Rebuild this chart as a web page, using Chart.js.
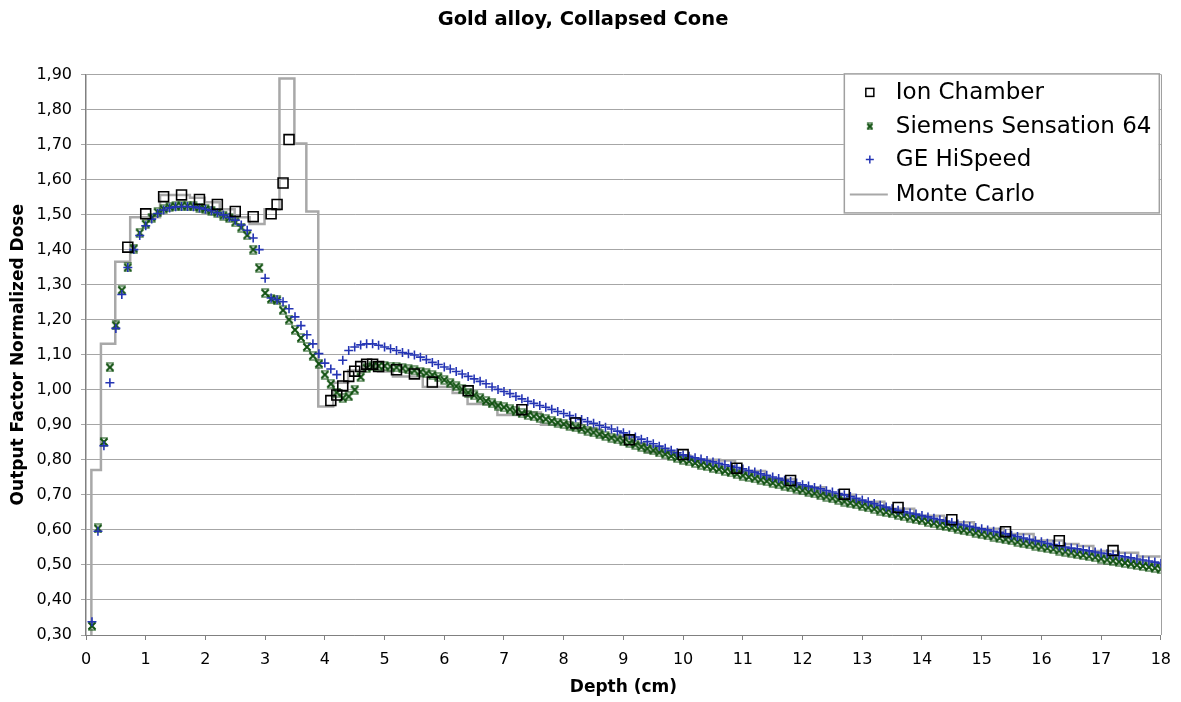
<!DOCTYPE html>
<html>
<head>
<meta charset="utf-8">
<script src="https://cdn.jsdelivr.net/npm/chart.js@4.4.1/dist/chart.umd.min.js"></script>
<style>
  html, body { margin: 0; padding: 0; background: #fff; }
  #wrap { width: 1181px; height: 702px; }
</style>
</head>
<body>
<div id="wrap"><canvas id="chart" width="1181" height="702"></canvas></div>
<script>
// 測定データ（深さ 0.1cm 刻み）
const depthStep = 0.1;

const siemens = [
  0.326, 0.604, 0.851, 1.064, 1.184, 1.284, 1.349, 1.403, 1.448, 1.473,
  1.491, 1.507, 1.516, 1.522, 1.524, 1.525, 1.525, 1.523, 1.520, 1.516,
  1.511, 1.505, 1.497, 1.490, 1.478, 1.463, 1.441, 1.400, 1.348, 1.276,
  1.259, 1.255, 1.227, 1.200, 1.171, 1.148, 1.122, 1.097, 1.074, 1.043,
  1.017, 0.992, 0.976, 0.981, 1.000, 1.036, 1.062, 1.067, 1.068, 1.068,
  1.066, 1.064, 1.061, 1.058, 1.055, 1.051, 1.047, 1.042, 1.036, 1.028,
  1.019, 1.010, 1.001, 0.992, 0.984, 0.976, 0.968, 0.961, 0.955, 0.950,
  0.944, 0.938, 0.933, 0.928, 0.924, 0.920, 0.916, 0.911, 0.906, 0.902,
  0.897, 0.893, 0.888, 0.883, 0.878, 0.873, 0.868, 0.863, 0.858, 0.853,
  0.848, 0.843, 0.837, 0.832, 0.827, 0.821, 0.816, 0.811, 0.805, 0.800,
  0.796, 0.791, 0.786, 0.782, 0.777, 0.773, 0.768, 0.764, 0.759, 0.755,
  0.751, 0.747, 0.743, 0.739, 0.734, 0.730, 0.726, 0.722, 0.717, 0.713,
  0.708, 0.704, 0.699, 0.695, 0.690, 0.686, 0.681, 0.677, 0.673, 0.668,
  0.664, 0.660, 0.655, 0.651, 0.647, 0.643, 0.639, 0.635, 0.631, 0.627,
  0.623, 0.619, 0.615, 0.611, 0.607, 0.603, 0.599, 0.596, 0.592, 0.588,
  0.584, 0.581, 0.577, 0.573, 0.570, 0.566, 0.562, 0.559, 0.555, 0.552,
  0.548, 0.545, 0.541, 0.538, 0.535, 0.531, 0.528, 0.525, 0.522, 0.518,
  0.515, 0.512, 0.509, 0.506, 0.503, 0.500, 0.497, 0.494, 0.491, 0.488
];

const geHiSpeed = [
  0.338, 0.596, 0.840, 1.020, 1.175, 1.272, 1.349, 1.400, 1.440, 1.468,
  1.487, 1.503, 1.513, 1.519, 1.522, 1.523, 1.523, 1.522, 1.519, 1.515,
  1.511, 1.505, 1.499, 1.492, 1.484, 1.470, 1.455, 1.433, 1.400, 1.318,
  1.262, 1.257, 1.251, 1.231, 1.208, 1.183, 1.157, 1.131, 1.103, 1.076,
  1.059, 1.043, 1.084, 1.112, 1.122, 1.128, 1.131, 1.131, 1.127, 1.122,
  1.117, 1.112, 1.106, 1.103, 1.099, 1.093, 1.086, 1.078, 1.072, 1.065,
  1.059, 1.052, 1.045, 1.038, 1.031, 1.024, 1.017, 1.008, 1.001, 0.995,
  0.989, 0.981, 0.974, 0.967, 0.961, 0.955, 0.950, 0.944, 0.938, 0.932,
  0.926, 0.920, 0.915, 0.909, 0.904, 0.898, 0.893, 0.888, 0.882, 0.877,
  0.871, 0.865, 0.859, 0.852, 0.846, 0.839, 0.833, 0.827, 0.820, 0.814,
  0.810, 0.806, 0.802, 0.798, 0.794, 0.790, 0.786, 0.782, 0.778, 0.774,
  0.769, 0.765, 0.760, 0.756, 0.751, 0.747, 0.742, 0.738, 0.734, 0.729,
  0.725, 0.721, 0.717, 0.712, 0.708, 0.704, 0.700, 0.695, 0.690, 0.685,
  0.680, 0.675, 0.670, 0.665, 0.660, 0.656, 0.652, 0.648, 0.645, 0.641,
  0.637, 0.633, 0.629, 0.625, 0.621, 0.617, 0.614, 0.610, 0.607, 0.603,
  0.600, 0.596, 0.593, 0.589, 0.585, 0.581, 0.577, 0.573, 0.569, 0.566,
  0.562, 0.558, 0.554, 0.551, 0.548, 0.546, 0.543, 0.540, 0.537, 0.534,
  0.532, 0.529, 0.526, 0.523, 0.520, 0.517, 0.514, 0.511, 0.508, 0.505
];

// 電離箱
const ionDepth = [0.7, 1.0, 1.3, 1.6, 1.9, 2.2, 2.5, 2.8, 3.1, 3.2, 3.3, 3.4,
  4.1, 4.2, 4.3, 4.4, 4.5, 4.6, 4.7, 4.8, 4.9, 5.2, 5.5, 5.8, 6.4,
  7.3, 8.2, 9.1, 10.0, 10.9, 11.8, 12.7, 13.6, 14.5, 15.4, 16.3, 17.2];
const ionDose = [1.407, 1.502, 1.551, 1.556, 1.543, 1.529, 1.509, 1.494, 1.502, 1.529, 1.590, 1.714,
  0.969, 0.985, 1.011, 1.038, 1.053, 1.066, 1.073, 1.073, 1.066, 1.057, 1.045, 1.022, 0.997,
  0.943, 0.905, 0.857, 0.815, 0.776, 0.741, 0.702, 0.664, 0.629, 0.595, 0.569, 0.541];

// モンテカルロ（ビン左端と値、階段状）
const mcDepth = [0.09, 0.09, 0.25, 0.49, 0.74, 1.24, 1.74, 1.99, 2.24, 2.49,
  2.74, 2.99, 3.24, 3.49, 3.69, 3.89, 4.14, 4.39, 4.64, 4.89,
  5.14, 5.64, 6.14, 6.39, 6.89, 7.24, 7.62, 8.12, 8.62, 9.12,
  9.37, 9.87, 10.12, 10.62, 10.87, 11.37, 11.87, 12.37, 12.87, 13.37,
  13.87, 14.37, 14.87, 15.37, 15.87, 16.37, 16.62, 16.87, 17.29, 17.62, 18.0];
const mcDose = [0.30, 0.771, 1.131, 1.365, 1.492, 1.556, 1.548, 1.535, 1.515, 1.492,
  1.473, 1.515, 1.888, 1.703, 1.509, 0.952, 1.020, 1.055, 1.068, 1.052,
  1.038, 1.008, 0.991, 0.959, 0.928, 0.935, 0.900, 0.888, 0.866, 0.845,
  0.822, 0.812, 0.800, 0.798, 0.768, 0.745, 0.722, 0.700, 0.680, 0.660,
  0.640, 0.622, 0.603, 0.588, 0.570, 0.560, 0.554, 0.540, 0.535, 0.524, 0.524];

const seriesNames = ['Ion Chamber', 'Siemens Sensation 64', 'GE HiSpeed', 'Monte Carlo'];

const FONT = 'DejaVu Sans, Verdana, sans-serif';
const GREEN = '#0f500f';
const BLUE = '#2434b4';
const GREY = '#a8a8a8';

function grid(vals) {
  return vals.map((v, i) => ({ x: Math.round((i + 1) * depthStep * 10) / 10, y: v }));
}
function pairs(xs, ys) {
  return xs.map((x, i) => ({ x: x, y: ys[i] }));
}

// Siemensのマーカー（太めの×、上下に短いバー）
function starMark(s, color) {
  const c = document.createElement('canvas');
  c.width = s; c.height = s;
  const g = c.getContext('2d');
  g.strokeStyle = color;
  g.lineWidth = 2;
  g.beginPath();
  g.moveTo(1.5, 1.5); g.lineTo(s - 1.5, s - 1.5);
  g.moveTo(s - 1.5, 1.5); g.lineTo(1.5, s - 1.5);
  g.stroke();
  g.lineWidth = 1.2;
  g.beginPath();
  g.moveTo(1, 1); g.lineTo(s - 1, 1);
  g.moveTo(1, s - 1); g.lineTo(s - 1, s - 1);
  g.stroke();
  return c;
}
const starBig = starMark(10, GREEN);
const starSmall = starMark(8, GREEN);

const plotFrame = {
  id: 'plotFrame',
  beforeDraw(chart) {
    const ctx = chart.ctx;
    ctx.save();
    ctx.fillStyle = '#fff';
    ctx.fillRect(0, 0, chart.width, chart.height);
    ctx.restore();
  },
  beforeDatasetsDraw(chart) {
    const ctx = chart.ctx, a = chart.chartArea;
    ctx.save();
    ctx.strokeStyle = '#a0a0a0';
    ctx.lineWidth = 1;
    ctx.beginPath();
    ctx.moveTo(Math.round(a.right) + 0.5, a.top);
    ctx.lineTo(Math.round(a.right) + 0.5, a.bottom);
    ctx.stroke();
    ctx.restore();
  }
};

// 凡例（グラフ内右上）
const legendBox = {
  id: 'legendBox',
  afterDraw(chart) {
    const ctx = chart.ctx, a = chart.chartArea;
    const x0 = a.right - 317, y0 = a.top - 1, w = 315, h = 139;
    ctx.save();
    ctx.fillStyle = '#fff';
    ctx.fillRect(x0, y0, w, h);
    ctx.strokeStyle = '#a0a0a0';
    ctx.lineWidth = 1.5;
    ctx.strokeRect(x0 + 0.5, y0 + 0.5, w, h);
    const rows = [19, 53, 86, 121];
    const mx = x0 + 26;
    ctx.font = '23px ' + FONT;
    ctx.textBaseline = 'middle';
    ctx.textAlign = 'left';
    rows.forEach((dy, i) => {
      const y = y0 + dy;
      if (i === 0) {
        ctx.strokeStyle = '#000'; ctx.lineWidth = 1.5;
        ctx.strokeRect(mx - 4, y - 4, 8, 8);
      } else if (i === 1) {
        ctx.drawImage(starSmall, mx - 4, y - 4);
      } else if (i === 2) {
        ctx.strokeStyle = BLUE; ctx.lineWidth = 1.5;
        ctx.beginPath();
        ctx.moveTo(mx - 4, y); ctx.lineTo(mx + 4, y);
        ctx.moveTo(mx, y - 4); ctx.lineTo(mx, y + 4);
        ctx.stroke();
      } else {
        ctx.strokeStyle = GREY; ctx.lineWidth = 2;
        ctx.beginPath();
        ctx.moveTo(x0 + 6, y); ctx.lineTo(x0 + 44, y);
        ctx.stroke();
      }
      ctx.fillStyle = '#000';
      ctx.fillText(seriesNames[i], x0 + 52, y + 1);
    });
    ctx.restore();
  }
};

new Chart(document.getElementById('chart'), {
  type: 'scatter',
  data: {
    datasets: [
      {
        label: seriesNames[0],
        data: pairs(ionDepth, ionDose),
        pointStyle: 'rect',
        pointRadius: 7,
        borderColor: '#000',
        backgroundColor: 'rgba(0,0,0,0)',
        borderWidth: 1.6,
        order: 1
      },
      {
        label: seriesNames[1],
        data: grid(siemens),
        pointStyle: starBig,
        pointRadius: 4,
        borderColor: GREEN,
        backgroundColor: GREEN,
        order: 3
      },
      {
        label: seriesNames[2],
        data: grid(geHiSpeed),
        pointStyle: 'cross',
        pointRadius: 4.5,
        borderColor: BLUE,
        backgroundColor: BLUE,
        borderWidth: 1.6,
        order: 2
      },
      {
        label: seriesNames[3],
        data: pairs(mcDepth, mcDose),
        showLine: true,
        stepped: true,
        pointRadius: 0,
        borderColor: GREY,
        borderWidth: 2.5,
        fill: false,
        order: 4
      }
    ]
  },
  options: {
    responsive: false,
    animation: false,
    events: [],
    layout: { padding: { left: 0, right: 15, top: 0, bottom: 0 } },
    plugins: {
      legend: { display: false },
      tooltip: { enabled: false },
      title: {
        display: true,
        text: 'Gold alloy, Collapsed Cone',
        color: '#000',
        font: { family: FONT, size: 19.5, weight: 'bold' },
        padding: { top: 8, bottom: 43 }
      }
    },
    scales: {
      x: {
        type: 'linear',
        min: 0,
        max: 18,
        afterFit: s => { s.height = 67; },
        ticks: {
          stepSize: 1,
          autoSkip: false,
          maxRotation: 0,
          padding: 10,
          color: '#000',
          font: { family: FONT, size: 16 }
        },
        grid: { drawOnChartArea: false, drawTicks: true, tickLength: 5, color: '#808080' },
        border: { color: '#808080', width: 1 },
        title: {
          display: true,
          text: 'Depth (cm)',
          color: '#000',
          font: { family: FONT, size: 17, weight: 'bold' },
          padding: { top: 0, bottom: 4 }
        }
      },
      y: {
        min: 0.3,
        max: 1.9,
        afterFit: s => { s.width = 86; },
        ticks: {
          stepSize: 0.1,
          padding: 9,
          color: '#000',
          font: { family: FONT, size: 16 },
          callback: v => v.toFixed(2).replace('.', ',')
        },
        grid: { color: '#a6a6a6', lineWidth: 1, tickLength: 5 },
        border: { color: '#808080', width: 1.5 },
        title: {
          display: true,
          text: 'Output Factor Normalized Dose',
          color: '#000',
          font: { family: FONT, size: 17, weight: 'bold' },
          padding: { top: 8, bottom: 0 }
        }
      }
    }
  },
  plugins: [plotFrame, legendBox]
});
</script>
</body>
</html>
